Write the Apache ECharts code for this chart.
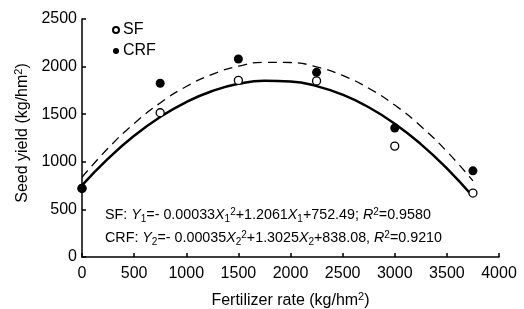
<!DOCTYPE html>
<html><head><meta charset="utf-8">
<script src="https://cdn.jsdelivr.net/npm/echarts@6/dist/echarts.min.js"></script>
<style>html,body{margin:0;padding:0;background:#fff}#c{width:524px;height:309px}</style>
</head><body><div id="c"></div>
<script>
var rates = [0, 750, 1500, 2250, 3000, 3750];
var sfYield = [720, 1515, 1855, 1850, 1165, 672];
var crfYield = [722, 1825, 2080, 1940, 1355, 905];
var curveX = [0,250,500,750,1000,1250,1500,1750,2000,2250,2500,2750,3000,3250,3500,3750];
var sfCurve = [752,1033,1273,1471,1628,1744,1819,1852,1844,1795,1705,1573,1400,1186,931,635];
var crfCurve = [838,1142,1402,1618,1791,1919,2004,2045,2043,1997,1907,1773,1596,1374,1109,800];
var xTicks = [0,500,1000,1500,2000,2500,3000,3500,4000];
var yTicks = [0,500,1000,1500,2000,2500];

function zip(a,b){return a.map(function(v,i){return [v,b[i]];});}
var F = 'Liberation Sans, Arial, sans-serif';
var chart = echarts.init(document.getElementById('c'));
var eqRich = {i:{fontFamily:F,fontSize:14.3,fontStyle:'italic'},
  b:{fontFamily:F,fontSize:10,verticalAlign:'bottom',padding:[7,0,0,0]},
  p:{fontFamily:F,fontSize:10,verticalAlign:'top',padding:[0,0,7,0]}};
chart.setOption({
  animation:false,
  grid:{left:82,right:25,top:19,bottom:52,containLabel:false,outerBoundsMode:'none'},
  xAxis:{type:'value',min:xTicks[0],max:xTicks[xTicks.length-1],interval:500,
    axisLine:{lineStyle:{color:'#000',width:1.5}},
    axisTick:{inside:true,length:4,lineStyle:{color:'#000',width:1.5}},
    axisLabel:{color:'#000',fontFamily:F,fontSize:16,margin:9,formatter:function(v){return String(v);}},
    splitLine:{show:false},
    name:'{a|Fertilizer rate (kg/hm}{s|2}{a|)}',nameLocation:'middle',nameGap:34,
    nameTextStyle:{rich:{a:{fontFamily:F,fontSize:16,color:'#000'},s:{fontFamily:F,fontSize:11,color:'#000',verticalAlign:'top',padding:[0,0,8,0]}}}
  },
  yAxis:{type:'value',min:yTicks[0],max:yTicks[yTicks.length-1],interval:500,
    axisLine:{show:true,lineStyle:{color:'#000',width:1.5}},
    axisTick:{show:true,inside:true,length:4,lineStyle:{color:'#000',width:1.5}},
    axisLabel:{color:'#000',fontFamily:F,fontSize:16,margin:5,formatter:function(v){return String(v);}},
    splitLine:{show:false},
    name:'{a|Seed yield (kg/hm}{s|2}{a|)}',nameLocation:'middle',nameGap:45,
    nameTextStyle:{padding:[0,0,0,10],rich:{a:{fontFamily:F,fontSize:16,color:'#000'},s:{fontFamily:F,fontSize:11,color:'#000',verticalAlign:'top',padding:[0,0,8,0]}}}
  },
  legend:{orient:'vertical',left:107,top:17,itemWidth:6,itemHeight:6,itemGap:5,
    textStyle:{fontFamily:F,fontSize:16,color:'#000',padding:[0,0,0,-1]},
    data:['SF','CRF']},
  series:[
    {name:'SF fit',type:'line',data:zip(curveX,sfCurve),smooth:true,showSymbol:false,
      lineStyle:{color:'#000',width:2.5},z:2},
    {name:'CRF fit',type:'line',data:zip(curveX,crfCurve),smooth:true,showSymbol:false,
      lineStyle:{color:'#000',width:1.3,type:[9,6]},z:2},
    {name:'SF',type:'scatter',data:zip(rates,sfYield),symbol:'circle',symbolSize:8,
      itemStyle:{color:'#fff',borderColor:'#000',borderWidth:1.3,opacity:1},z:3},
    {name:'CRF',type:'scatter',data:zip(rates,crfYield),symbol:'circle',symbolSize:9,
      itemStyle:{color:'#000',opacity:1},z:4}
  ],
  graphic:[
    {type:'text',left:105,top:207,style:{
      text:'SF: {i|Y}{b|1}=- 0.00033{i|X}{b|1}{p|2}+1.2061{i|X}{b|1}+752.49; {i|R}{p|2}=0.9580',
      fontFamily:F,fontSize:14.3,fill:'#000',rich:eqRich}},
    {type:'text',left:105,top:230,style:{
      text:'CRF: {i|Y}{b|2}=- 0.00035{i|X}{b|2}{p|2}+1.3025{i|X}{b|2}+838.08, {i|R}{p|2}=0.9210',
      fontFamily:F,fontSize:14.3,fill:'#000',rich:eqRich}}
  ]
});
</script></body></html>
